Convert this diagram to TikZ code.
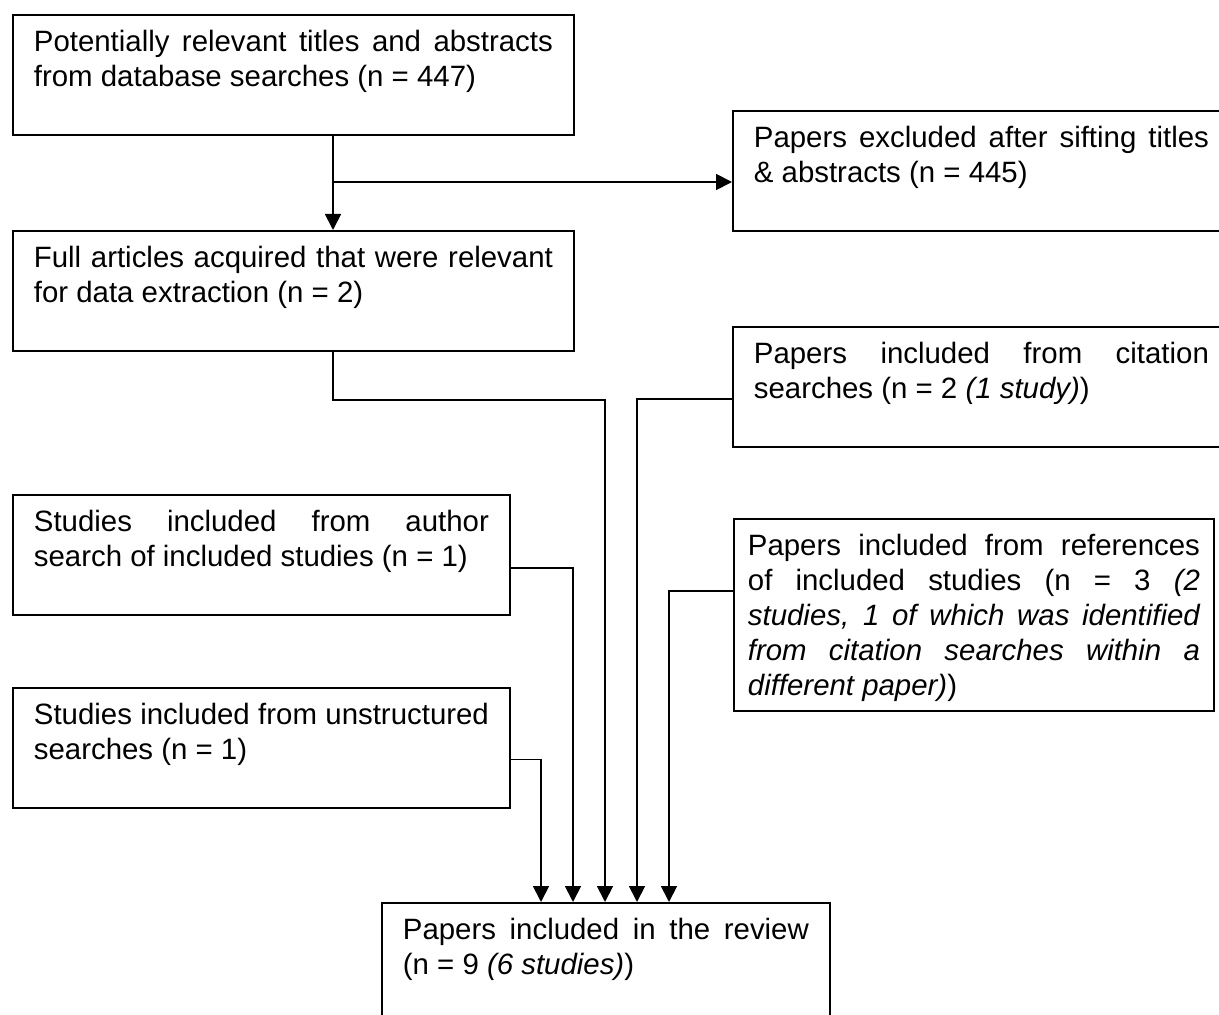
\documentclass[tikz,border=0pt]{standalone}
\usepackage{fontspec}
\setmainfont{Liberation Sans}
\usetikzlibrary{arrows.meta}
\newcommand{\boxtext}[3]{\parbox[t][#1][t]{#2}{\strut#3}}
\hyphenpenalty=10000
\exhyphenpenalty=10000
\tolerance=10000
\hbadness=10000
\hfuzz=2pt

\tikzset{
  flowbox/.style={draw, line width=0.9pt, anchor=north west, inner xsep=10.5pt, inner ysep=6.25pt, font=\fontsize{14.7}{17.5}\selectfont},
  link/.style={line width=0.9pt},
  arr/.style={line width=0.9pt, -{Triangle[length=8pt,width=8pt]}}
}

\begin{document}
\begin{tikzpicture}[x=0.5pt,y=-0.5pt]
\useasboundingbox (0,0) rectangle (1219,1015);

\node[flowbox] (titles) at (12,14) {\boxtext{47.5pt}{259.5pt}{Potentially relevant titles and abstracts\linebreak from database searches (n = 447)}};
\node[flowbox] (excluded) at (732,110) {\boxtext{47.5pt}{227.5pt}{Papers excluded after sifting titles\linebreak \& abstracts (n = 445)}};
\node[flowbox] (fulltext) at (12,230) {\boxtext{47.5pt}{259.5pt}{Full articles acquired that were relevant\linebreak for data extraction (n = 2)}};
\node[flowbox] (citation) at (732,326) {\boxtext{47.5pt}{227.5pt}{Papers included from citation\linebreak searches (n = 2 \textit{(1 study)})}};
\node[flowbox] (author) at (12,494) {\boxtext{47.5pt}{227.5pt}{Studies included from author\linebreak search of included studies (n = 1)}};
\node[flowbox, inner xsep=7pt] (refs) at (733,518) {\boxtext{83.5pt}{226pt}{Papers included from references\linebreak of included studies (n = 3 \textit{(2\linebreak studies, 1 of which was identified\linebreak from citation searches within a\linebreak different paper)})}};
\node[flowbox] (unstruct) at (12,687) {\boxtext{47.5pt}{227.5pt}{Studies included from unstructured\linebreak searches (n = 1)}};
\node[flowbox] (review) at (381,902) {\boxtext{47.5pt}{203pt}{Papers included in the review\linebreak (n = 9 \textit{(6 studies)})}};

\coordinate (split) at (333,182);
\coordinate (in1) at (541,902);
\coordinate (in2) at (573,902);
\coordinate (in3) at (605,902);
\coordinate (in4) at (637,902);
\coordinate (in5) at (669,902);

\draw[arr] (titles.south -| split) -- (fulltext.north -| split);
\draw[arr] (split) -- (split -| excluded.west);
\draw[arr] (fulltext.south -| split) -- ++(0,48) -| (in3);
\draw[arr] ([yshift=-6pt]citation.west) -| (in4);
\draw[arr] ([yshift=-6.5pt]author.east) -| (in2);
\draw[arr] ([yshift=-5.75pt]unstruct.east) -| (in1);
\draw[arr] ([yshift=12pt]refs.west) -| (in5);
\end{tikzpicture}
\end{document}
